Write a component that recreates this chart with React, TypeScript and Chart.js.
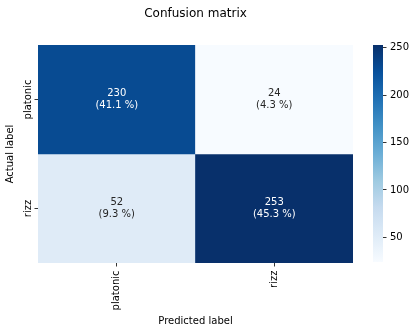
import React, { useEffect, useRef } from 'react';
import { Chart, registerables } from 'chart.js';

Chart.register(...registerables);

// ---- data ----
const actualLabels = ['platonic', 'rizz'];
const predictedLabels = ['platonic', 'rizz'];
const platonicRow = [230, 24];
const rizzRow = [52, 253];
const countRows = [platonicRow, rizzRow];
const colorbarTicks = [50, 100, 150, 200, 250];
const titleText = 'Confusion matrix';
const xTitle = 'Predicted label';
const yTitle = 'Actual label';

// matplotlib "Blues" colormap stops
const BLUES = ['#f7fbff', '#deebf7', '#c6dbef', '#9ecae1', '#6baed6', '#4292c6', '#2171b5', '#08519c', '#08306b'];

const allCounts = countRows.flat();
const vmin = Math.min(...allCounts);
const vmax = Math.max(...allCounts);
const total = allCounts.reduce((a, b) => a + b, 0);

function hexToRgb(h: string): number[] {
  const n = parseInt(h.slice(1), 16);
  return [(n >> 16) & 255, (n >> 8) & 255, n & 255];
}

function bluesRgb(t: number): number[] {
  const tt = Math.max(0, Math.min(1, t));
  const s = tt * (BLUES.length - 1);
  const i = Math.min(Math.floor(s), BLUES.length - 2);
  const f = s - i;
  const a = hexToRgb(BLUES[i]);
  const b = hexToRgb(BLUES[i + 1]);
  return a.map((v, k) => Math.round(v + (b[k] - v) * f));
}

function rgbStr(c: number[]) {
  return `rgb(${c[0]},${c[1]},${c[2]})`;
}

function colorFor(v: number) {
  return rgbStr(bluesRgb((v - vmin) / (vmax - vmin)));
}

function textColorFor(v: number) {
  const c = bluesRgb((v - vmin) / (vmax - vmin)).map((x) => {
    const s = x / 255;
    return s <= 0.03928 ? s / 12.92 : Math.pow((s + 0.055) / 1.055, 2.4);
  });
  const lum = 0.2126 * c[0] + 0.7152 * c[1] + 0.0722 * c[2];
  return lum < 0.408 ? '#ffffff' : '#262626';
}

const FONT = "'DejaVu Sans'";

const cellTextPlugin = {
  id: 'cellText',
  afterDatasetsDraw(chart: any) {
    const ctx = chart.ctx;
    ctx.save();
    ctx.font = `10px ${FONT}`;
    ctx.textAlign = 'center';
    ctx.textBaseline = 'middle';
    chart.data.datasets.forEach((_ds: any, r: number) => {
      const meta = chart.getDatasetMeta(r);
      meta.data.forEach((bar: any, c: number) => {
        const v = countRows[r][c];
        const cx = bar.x;
        const cy = (bar.y + bar.base) / 2;
        ctx.fillStyle = textColorFor(v);
        ctx.fillText(String(v), cx, cy - 6);
        ctx.fillText(`(${((100 * v) / total).toFixed(1)} %)`, cx, cy + 6);
      });
    });
    ctx.restore();
  },
};

export default function App() {
  const mainRef = useRef<HTMLCanvasElement | null>(null);
  const barRef = useRef<HTMLCanvasElement | null>(null);

  useEffect(() => {
    Chart.defaults.font.family = FONT;
    Chart.defaults.font.size = 10;
    Chart.defaults.color = '#000';

    const main = new Chart(mainRef.current as HTMLCanvasElement, {
      type: 'bar',
      data: {
        labels: predictedLabels,
        datasets: countRows.map((row, r) => ({
          label: actualLabels[r],
          data: row.map(() => [r, r + 1]),
          backgroundColor: row.map((v) => colorFor(v)),
          borderWidth: 0,
          barPercentage: 1,
          categoryPercentage: 1,
          grouped: false,
        })) as any,
      },
      options: {
        responsive: false,
        animation: false,
        layout: { padding: { left: 0, right: 63, top: 0, bottom: 0 } },
        plugins: {
          legend: { display: false },
          tooltip: { enabled: false },
          title: {
            display: true,
            text: titleText,
            fullSize: false,
            color: '#000',
            font: { size: 12, weight: 'normal', family: FONT },
            padding: { top: 6.5, bottom: 24.1 },
          },
        },
        scales: {
          x: {
            type: 'category',
            offset: true,
            grid: {
              display: true,
              offset: false,
              drawOnChartArea: false,
              drawTicks: true,
              tickLength: 3.5,
              color: '#000',
              lineWidth: 0.8,
            },
            border: { display: false },
            ticks: { minRotation: 90, maxRotation: 90, autoSkip: false, padding: 4, color: '#000' },
            title: { display: true, text: xTitle, color: '#000', padding: { top: 0, bottom: 4 }, font: { size: 10 } },
            afterFit: (s: any) => {
              s.height = 68;
            },
          },
          y: {
            type: 'linear',
            min: 0,
            max: actualLabels.length,
            reverse: true,
            afterBuildTicks: (s: any) => {
              s.ticks = actualLabels.map((_l, i) => ({ value: i + 0.5 }));
            },
            grid: {
              display: true,
              drawOnChartArea: false,
              drawTicks: true,
              tickLength: 3.5,
              color: '#000',
              lineWidth: 0.8,
            },
            border: { display: false },
            ticks: {
              callback: (v: any) => actualLabels[Math.floor(Number(v))],
              minRotation: 90,
              maxRotation: 90,
              crossAlign: 'center',
              padding: -13.5,
              autoSkip: false,
              color: '#000',
            },
            title: { display: true, text: yTitle, color: '#000', padding: { top: 4.5, bottom: 0 }, font: { size: 10 } },
            afterFit: (s: any) => {
              s.width = 38;
            },
          },
        } as any,
      },
      plugins: [cellTextPlugin],
    });

    const bar = new Chart(barRef.current as HTMLCanvasElement, {
      type: 'bar',
      data: {
        labels: [''],
        datasets: [
          {
            data: [[vmin, vmax]] as any,
            backgroundColor: (c: any) => {
              const chart = c.chart;
              const ca = chart.chartArea;
              if (!ca) return BLUES[4];
              const ys = chart.scales.y;
              const g = chart.ctx.createLinearGradient(0, ys.getPixelForValue(vmin), 0, ys.getPixelForValue(vmax));
              BLUES.forEach((col, i) => g.addColorStop(i / (BLUES.length - 1), col));
              return g;
            },
            borderWidth: 0,
            barPercentage: 1,
            categoryPercentage: 1,
          },
        ],
      },
      options: {
        responsive: false,
        animation: false,
        layout: { padding: { left: 33, top: 45, bottom: 69, right: 0 } },
        plugins: { legend: { display: false }, tooltip: { enabled: false } },
        scales: {
          x: { display: false },
          y: {
            position: 'right',
            min: vmin,
            max: vmax,
            afterBuildTicks: (s: any) => {
              s.ticks = colorbarTicks.map((v) => ({ value: v }));
            },
            ticks: { padding: 3.5, color: '#000' },
            grid: {
              display: true,
              drawOnChartArea: false,
              drawTicks: true,
              tickLength: 3.5,
              color: '#000',
              lineWidth: 0.8,
            },
            border: { display: false },
            afterFit: (s: any) => {
              s.width = 33;
            },
          },
        } as any,
      },
    });

    return () => {
      main.destroy();
      bar.destroy();
    };
  }, []);

  return (
    <div style={{ position: 'fixed', left: 0, top: 0, width: 416, height: 331, background: '#fff' }}>
      <canvas ref={mainRef} width={416} height={331} style={{ position: 'absolute', left: 0, top: 0 }} />
      <canvas ref={barRef} width={76} height={331} style={{ position: 'absolute', left: 340, top: 0 }} />
    </div>
  );
}
